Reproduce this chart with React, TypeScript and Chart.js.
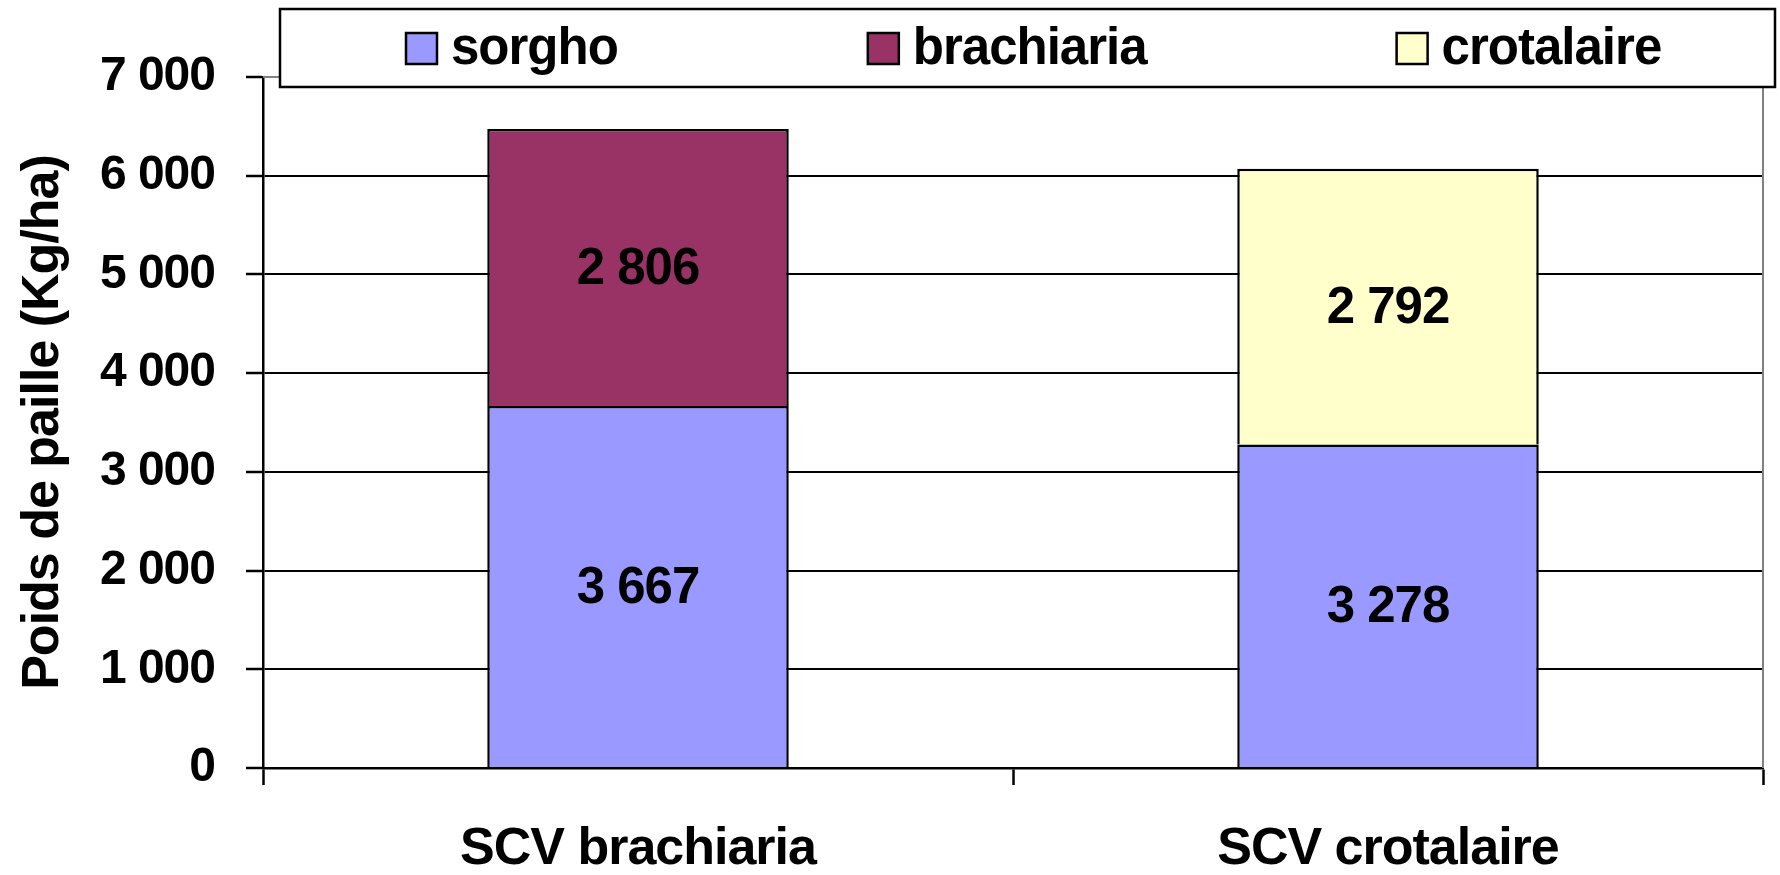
import React, { useEffect, useRef } from 'react';
import { Chart, registerables } from 'chart.js';

Chart.register(...registerables);

const categories = ['SCV brachiaria', 'SCV crotalaire'];
const seriesNames = ['sorgho', 'brachiaria', 'crotalaire'];
const sorgho: (number | null)[] = [3667, 3278];
const brachiaria: (number | null)[] = [2806, null];
const crotalaire: (number | null)[] = [null, 2792];
const seriesColors = ['#9999FF', '#993366', '#FFFFCC'];
const yMin = 0;
const yMax = 7000;
const yStep = 1000;

const FONT = '"Liberation Sans", Arial, Helvetica, sans-serif';
const SPACING = '-1px';

const fmt = (v: number) =>
  Math.round(v).toString().replace(/\B(?=(\d{3})+(?!\d))/g, ' ');

const spacingPlugin = {
  id: 'spacing',
  beforeInit(chart: any) {
    chart.ctx.letterSpacing = SPACING;
  },
  beforeUpdate(chart: any) {
    chart.ctx.letterSpacing = SPACING;
  },
  beforeDraw(chart: any) {
    chart.ctx.letterSpacing = SPACING;
  },
};

const framePlugin = {
  id: 'frame',
  beforeDatasetsDraw(chart: any) {
    const { ctx, chartArea: ca } = chart;
    ctx.save();
    ctx.strokeStyle = '#808080';
    ctx.lineWidth = 2;
    ctx.beginPath();
    ctx.moveTo(ca.left, ca.top);
    ctx.lineTo(ca.right, ca.top);
    ctx.lineTo(ca.right, ca.bottom);
    ctx.stroke();
    ctx.restore();
  },
};

const labelPlugin = {
  id: 'barLabels',
  afterDatasetsDraw(chart: any) {
    const { ctx } = chart;
    ctx.save();
    ctx.font = `bold 51px ${FONT}`;
    ctx.fillStyle = '#000';
    ctx.textAlign = 'center';
    ctx.textBaseline = 'middle';
    chart.data.datasets.forEach((ds: any, di: number) => {
      const meta = chart.getDatasetMeta(di);
      meta.data.forEach((el: any, i: number) => {
        const v = ds.data[i];
        if (v === null || v === undefined) return;
        const cy = (el.y + el.base) / 2;
        ctx.fillText(fmt(v), el.x, cy + 2);
      });
    });
    ctx.restore();
  },
};

const legendPlugin = {
  id: 'boxLegend',
  afterDraw(chart: any) {
    const { ctx, chartArea: ca } = chart;
    const left = ca.left + 17;
    const right = chart.width - 5;
    const top = 9;
    const bottom = 87;
    ctx.save();
    ctx.fillStyle = '#fff';
    ctx.fillRect(left, top, right - left, bottom - top);
    ctx.strokeStyle = '#000';
    ctx.lineWidth = 2.5;
    ctx.strokeRect(left, top, right - left, bottom - top);
    ctx.font = `bold 51px ${FONT}`;
    ctx.textBaseline = 'middle';
    ctx.textAlign = 'left';
    const cy = (top + bottom) / 2;
    let x = left + 126;
    chart.data.datasets.forEach((ds: any) => {
      ctx.fillStyle = ds.backgroundColor;
      ctx.fillRect(x, cy - 15, 31, 31);
      ctx.lineWidth = 2.5;
      ctx.strokeStyle = '#000';
      ctx.strokeRect(x, cy - 15, 31, 31);
      ctx.fillStyle = '#000';
      ctx.fillText(ds.label, x + 31 + 14, cy + 2);
      x += 31 + 14 + ctx.measureText(ds.label).width + 250;
    });
    ctx.restore();
  },
};

export default function App() {
  const ref = useRef<HTMLCanvasElement | null>(null);

  useEffect(() => {
    document.body.style.margin = '0';
    const canvas = ref.current;
    if (!canvas) return;
    const values = [sorgho, brachiaria, crotalaire];
    const chart = new Chart(canvas, {
      type: 'bar',
      data: {
        labels: categories,
        datasets: seriesNames.map((name, i) => ({
          label: name,
          data: values[i],
          backgroundColor: seriesColors[i],
          borderColor: '#000',
          borderWidth: 2.5,
          barPercentage: 0.402,
          categoryPercentage: 1,
        })),
      },
      options: {
        responsive: false,
        animation: false,
        devicePixelRatio: 1,
        layout: { padding: { left: 12, right: 17, top: 77, bottom: 0 } },
        plugins: {
          legend: { display: false },
          tooltip: { enabled: false },
        },
        scales: {
          x: {
            stacked: true,
            grid: {
              offset: true,
              drawOnChartArea: false,
              drawTicks: true,
              tickLength: 17,
              tickColor: '#000',
              tickWidth: 2.5,
            },
            border: { color: '#000', width: 2.5 },
            ticks: {
              color: '#000',
              padding: 33,
              font: { family: FONT, size: 52, weight: 'bold' },
              maxRotation: 0,
            },
            afterFit: (scale: any) => {
              scale.height = 107;
            },
          },
          y: {
            stacked: true,
            min: yMin,
            max: yMax,
            grid: {
              color: (c: any) => (c.tick && c.tick.value === yMax ? 'rgba(0,0,0,0)' : '#000'),
              lineWidth: 2,
              tickLength: 17,
              tickColor: '#000',
              tickWidth: 2.5,
            },
            border: { color: '#000', width: 2.5 },
            ticks: {
              stepSize: yStep,
              color: '#000',
              padding: 31,
              font: { family: FONT, size: 48, weight: 'bold' },
              callback: (v: any) => fmt(Number(v)),
            },
            title: {
              display: true,
              text: 'Poids de paille (Kg/ha)',
              color: '#000',
              padding: { top: 0, bottom: 0 },
              font: { family: FONT, size: 52, weight: 'bold' },
            },
            afterFit: (scale: any) => {
              scale.width = 251;
            },
          },
        },
      },
      plugins: [spacingPlugin, framePlugin, labelPlugin, legendPlugin],
    });
    return () => chart.destroy();
  }, []);

  return (
    <canvas
      ref={ref}
      width={1780}
      height={875}
      style={{ display: 'block', width: '1780px', height: '875px' }}
    />
  );
}
